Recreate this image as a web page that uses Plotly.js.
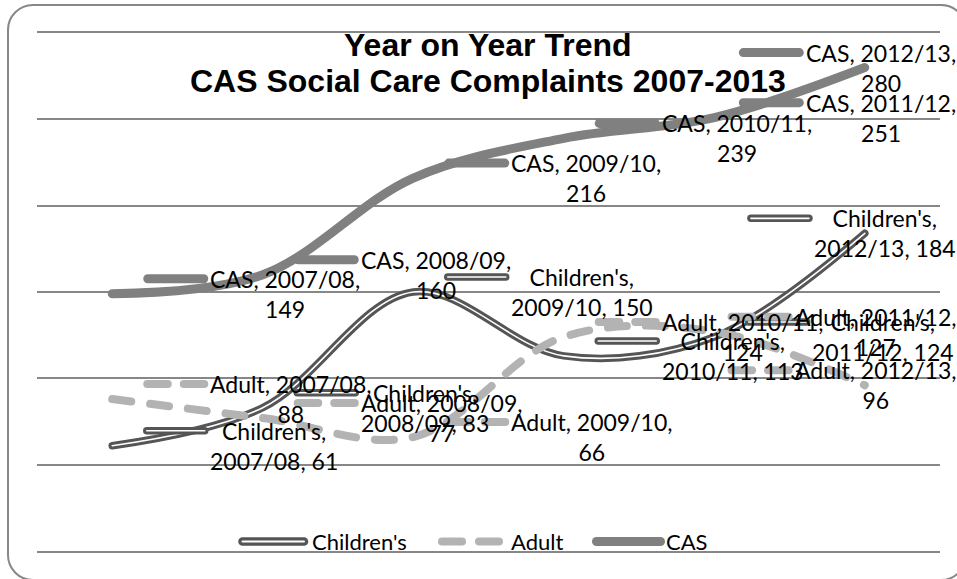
<!DOCTYPE html>
<html>
<head>
<meta charset="utf-8">
<script src="https://cdn.plot.ly/plotly-3.0.1.min.js"></script>
<style>
  html, body { margin: 0; padding: 0; background: #fff; overflow: hidden; }
  #wrap { position: relative; width: 957px; height: 579px; overflow: hidden; }
  #chart { position: absolute; left: 0; top: 0; width: 957px; height: 579px; }
  #frame { position: absolute; left: 7px; top: 4px; width: 960px; height: 577px; box-sizing: border-box;
           border: 2px solid #878787; border-radius: 26px; pointer-events: none; }
  .shapelayer path { stroke-linecap: round !important; }
  .scatterlayer .js-line { stroke-linecap: round !important; }
</style>
</head>
<body>
<div id="wrap"><div id="chart"></div><div id="frame"></div></div>
<script>
// ---- data ----
const years = ['2007/08', '2008/09', '2009/10', '2010/11', '2011/12', '2012/13'];
const childrens = [61, 83, 150, 113, 124, 184];
const adult = [88, 77, 66, 124, 127, 96];
const cas = [149, 160, 216, 239, 251, 280];
const seriesNames = ["Children's", 'Adult', 'CAS'];
const titleLines = ['Year on Year Trend', 'CAS Social Care Complaints 2007-2013'];
const yTicks = [0, 50, 100, 150, 200, 250, 300];

// ---- styles / layout constants ----
const W = 957, H = 579;
const M = { l: 37, r: 17, t: 33, b: 28 };
const plotW = W - M.l - M.r, plotH = H - M.t - M.b;
const colChildOuter = '#555555', colAdult = '#b3b3b3', colCAS = '#808080', colGrid = '#878787';
const labelFontSize = 23, labelFamily = 'Lato';
const lineH = labelFontSize * 1.3;

const traces = [
  { x: years, y: childrens, mode: 'lines', name: seriesNames[0], hoverinfo: 'skip',
    line: { color: colChildOuter, width: 7.5, shape: 'spline', smoothing: 1 } },
  { x: years, y: childrens, mode: 'lines', name: seriesNames[0] + ' inner', hoverinfo: 'skip',
    line: { color: '#ffffff', width: 1.6, shape: 'spline', smoothing: 1 } },
  { x: years, y: adult, mode: 'lines', name: seriesNames[1], hoverinfo: 'skip',
    line: { color: colAdult, width: 8, shape: 'spline', smoothing: 1, dash: '19px,19px' } },
  { x: years, y: cas, mode: 'lines', name: seriesNames[2], hoverinfo: 'skip',
    line: { color: colCAS, width: 9, shape: 'spline', smoothing: 1 } }
];

// ---- data labels with legend keys ----
const ctx = document.createElement('canvas').getContext('2d');
ctx.font = labelFontSize + 'px ' + labelFamily;
function wrap(text, maxW) {
  const words = text.split(' ');
  const lines = [];
  let cur = '';
  words.forEach(w => {
    const t = cur ? cur + ' ' + w : w;
    if (cur && ctx.measureText(t).width > maxW) { lines.push(cur); cur = w; }
    else cur = t;
  });
  if (cur) lines.push(cur);
  return lines;
}
function pointPx(i) { return M.l + (i + 0.5) * plotW / years.length; }

const shapes = [];
const annotations = [];
const seriesDefs = [
  { name: seriesNames[0], vals: childrens, key: 'double' },
  { name: seriesNames[1], vals: adult, key: 'dash' },
  { name: seriesNames[2], vals: cas, key: 'solid' }
];
const keyStart = 31, keyEnd = 96, textStart = 96, rightLimit = 958;

function keyShapes(i, v, a, b, kind) {
  const base = { type: 'line', xref: 'x', yref: 'y', xsizemode: 'pixel', ysizemode: 'pixel',
                 xanchor: years[i], yanchor: v, y0: lineH / 2, y1: lineH / 2, layer: 'above' };
  if (kind === 'solid') {
    shapes.push(Object.assign({}, base, { x0: a + 4.5, x1: b - 4.5, line: { color: colCAS, width: 9 } }));
  } else if (kind === 'double') {
    shapes.push(Object.assign({}, base, { x0: a + 3.5, x1: b - 3.5, line: { color: colChildOuter, width: 7.5 } }));
    shapes.push(Object.assign({}, base, { x0: a + 3.5, x1: b - 3.5, line: { color: '#ffffff', width: 1.6 } }));
  } else {
    const mid = (a + b) / 2;
    shapes.push(Object.assign({}, base, { x0: a + 4, x1: mid - 8, line: { color: colAdult, width: 8 } }));
    shapes.push(Object.assign({}, base, { x0: mid + 8, x1: b - 4, line: { color: colAdult, width: 8 } }));
  }
}

seriesDefs.forEach(s => {
  s.vals.forEach((v, i) => {
    const lines = wrap(s.name + ', ' + years[i] + ', ' + v, 178);
    const tw = Math.max(...lines.map(l => ctx.measureText(l).width));
    const right = pointPx(i) + textStart + 4 + tw;
    const shift = Math.max(0, right - rightLimit);
    keyShapes(i, v, keyStart - shift, keyEnd - shift, s.key);
    annotations.push({ x: years[i], y: v, xref: 'x', yref: 'y', xanchor: 'left', yanchor: 'middle',
      xshift: textStart - shift, showarrow: false, align: 'center', text: lines.join('<br>'),
      font: { family: labelFamily, size: labelFontSize, color: '#000' } });
  });
});

// ---- title (two lines) ----
function px2paperX(p) { return (p - M.l) / plotW; }
function px2paperY(p) { return (H - M.b - p) / plotH; }
const titleY = [45, 81];
titleLines.forEach((t, k) => {
  annotations.push({ xref: 'paper', yref: 'paper', x: px2paperX(488), y: px2paperY(titleY[k]),
    xanchor: 'center', yanchor: 'middle', showarrow: false, text: '<b>' + t + '</b>',
    font: { family: 'Liberation Sans, Arial', size: 32, color: '#000' } });
});

// ---- legend (drawn manually) ----
const legY = 541.5;
const legFont = { family: labelFamily, size: 22, color: '#000' };
function legLine(x0, x1, color, width) {
  shapes.push({ type: 'line', xref: 'paper', yref: 'paper', x0: px2paperX(x0), x1: px2paperX(x1),
    y0: px2paperY(legY), y1: px2paperY(legY), line: { color: color, width: width }, layer: 'above' });
}
legLine(242.5, 304, colChildOuter, 8.5);
legLine(242.5, 304, '#ffffff', 2);
legLine(442, 462, colAdult, 8);
legLine(479, 499, colAdult, 8);
legLine(596.5, 660.5, colCAS, 9);
[[seriesNames[0], 310], [seriesNames[1], 509], [seriesNames[2], 664]].forEach(([t, x]) => {
  annotations.push({ xref: 'paper', yref: 'paper', x: px2paperX(x), y: px2paperY(legY),
    xanchor: 'left', yanchor: 'middle', showarrow: false, text: t, font: legFont });
});

const layout = {
  width: W, height: H,
  margin: M,
  paper_bgcolor: 'rgba(0,0,0,0)', plot_bgcolor: 'rgba(0,0,0,0)',
  showlegend: false,
  xaxis: { type: 'category', range: [-0.5, years.length - 0.5], showticklabels: false, ticks: '',
           showgrid: false, zeroline: false, showline: true, mirror: true, linecolor: colGrid, linewidth: 2,
           fixedrange: true },
  yaxis: { range: [yTicks[0], yTicks[yTicks.length - 1]], tickvals: yTicks, showticklabels: false, ticks: '',
           showgrid: true, gridcolor: colGrid, gridwidth: 2, zeroline: false, showline: false, fixedrange: true },
  shapes: shapes,
  annotations: annotations
};

Plotly.newPlot('chart', traces, layout, { staticPlot: true, displayModeBar: false });
</script>
</body>
</html>
